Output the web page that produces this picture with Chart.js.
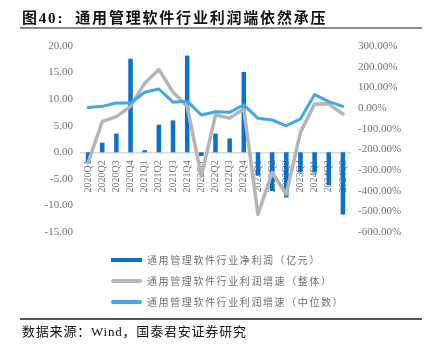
<!DOCTYPE html>
<html>
<head>
<meta charset="utf-8">
<script src="https://cdn.jsdelivr.net/npm/chart.js@4.4.1/dist/chart.umd.min.js"></script>
<style>
  html, body { margin: 0; padding: 0; background: #fff; }
  #wrap { position: relative; width: 428px; height: 348px; overflow: hidden; }
  #c { position: absolute; left: 0; top: 0; }
  .title { position: absolute; left: 22px; top: 6px; font: bold 15px "Liberation Serif", "Noto Sans CJK SC", serif; letter-spacing: 1.8px; color: #111; white-space: nowrap; }
  .rule { position: absolute; left: 20px; width: 402px; }
  .rule.top { top: 27px; height: 1.5px; background: #8a8a8a; }
  .rule.bottom { top: 318px; height: 1.5px; background: #555; }
  .source { position: absolute; left: 22px; top: 321px; font: 13px "Liberation Serif", "Noto Sans CJK SC", serif; color: #111; white-space: nowrap; letter-spacing: 0.8px; }
  .legend { position: absolute; left: 111px; top: 250px; }
  .legend .row { position: relative; height: 20.8px; }
  .legend .sw { position: absolute; left: 0; top: 8px; width: 31px; height: 4px; }
  .legend .sw.line { border-radius: 2px; }
  .legend .txt { position: absolute; left: 36px; top: 2px; font: 10px "Noto Sans CJK SC", sans-serif; color: #707070; letter-spacing: 1.6px; white-space: nowrap; }
</style>
</head>
<body>
<div id="wrap">
  <canvas id="c" width="428" height="348"></canvas>
  <div class="title">图40:&nbsp;&nbsp;通用管理软件行业利润端依然承压</div>
  <div class="rule top"></div>
  <div class="legend" id="legend"></div>
  <div class="rule bottom"></div>
  <div class="source">数据来源：Wind，国泰君安证券研究</div>
</div>
<script>
// Quarters shown on the category axis
const quarters = [
  '2020Q1', '2020Q2', '2020Q3', '2020Q4',
  '2021Q1', '2021Q2', '2021Q3', '2021Q4',
  '2022Q1', '2022Q2', '2022Q3', '2022Q4',
  '2023Q1', '2023Q2', '2023Q3', '2023Q4',
  '2024Q1', '2024Q2', '2024Q3'
];

// Net profit of the general management software industry (100m yuan)
const netProfit = [-2.0, 1.8, 3.5, 17.6, 0.4, 5.2, 6.0, 18.2, -0.7, 3.5, 2.6, 15.1,
                   -4.4, -7.3, -8.5, -3.8, -3.8, -6.2, -11.7];

// Profit growth, industry overall (%)
const growthOverall = [-265, -66, -42, 8, 120, 186, 76, 8, -330, -34, -49, -5,
                       -515, -312, -417, -118, 19, 19, -29];

// Profit growth, industry median (%)
const growthMedian = [3, 8, 24, 24, 76, 92, 28, 33, -34, -18, -21, 15,
                      -50, -58, -86, -53, 65, 31, 8];

const seriesNames = [
  '通用管理软件行业净利润（亿元）',
  '通用管理软件行业利润增速（整体）',
  '通用管理软件行业利润增速（中位数）'
];

const COLORS = { bar: '#0a72cc', overall: '#b5b5b5', median: '#41a7e6' };
const tickFont = { family: '"Liberation Serif", "Noto Sans CJK SC", serif', size: 11 };
const tickColor = '#707070';

const chart = new Chart(document.getElementById('c'), {
  data: {
    labels: quarters,
    datasets: [
      {
        type: 'bar', label: seriesNames[0], data: netProfit, yAxisID: 'y',
        backgroundColor: COLORS.bar, categoryPercentage: 1, barPercentage: 0.32, order: 3
      },
      {
        type: 'line', label: seriesNames[1], data: growthOverall, yAxisID: 'y1',
        borderColor: COLORS.overall, borderWidth: 3.5, pointRadius: 0, tension: 0,
        borderJoinStyle: 'round', borderCapStyle: 'round', order: 2
      },
      {
        type: 'line', label: seriesNames[2], data: growthMedian, yAxisID: 'y1',
        borderColor: COLORS.median, borderWidth: 3, pointRadius: 0, tension: 0,
        borderJoinStyle: 'round', borderCapStyle: 'round', order: 1
      }
    ]
  },
  options: {
    responsive: false,
    animation: false,
    layout: { padding: { top: 46, bottom: 116, left: 0, right: 0 } },
    plugins: { legend: { display: false }, tooltip: { enabled: false } },
    scales: {
      x: {
        type: 'category',
        offset: true,
        position: { y: 0 },
        grid: { display: false, drawTicks: false },
        border: { display: true, color: '#d9d9d9', width: 1.5 },
        ticks: {
          autoSkip: false, maxRotation: 90, minRotation: 90, padding: 8,
          color: tickColor, font: { family: tickFont.family, size: 10 }
        }
      },
      y: {
        position: 'left', min: -15, max: 20,
        grid: { display: false, drawTicks: false },
        border: { display: false },
        ticks: { stepSize: 5, padding: 8, color: tickColor, font: tickFont,
                 callback: v => v.toFixed(2) },
        afterFit: s => { s.width = 81; }
      },
      y1: {
        position: 'right', min: -600, max: 300,
        grid: { display: false, drawTicks: false },
        border: { display: false },
        ticks: { stepSize: 100, padding: 8, color: tickColor, font: tickFont,
                 callback: v => v.toFixed(2) + '%' },
        afterFit: s => { s.width = 78; }
      }
    }
  }
});

// Legend rows built from the chart's own datasets
const legend = document.getElementById('legend');
chart.data.datasets.forEach(ds => {
  const row = document.createElement('div');
  row.className = 'row';
  const sw = document.createElement('span');
  sw.className = 'sw' + (ds.type === 'line' ? ' line' : '');
  sw.style.background = ds.type === 'line' ? ds.borderColor : ds.backgroundColor;
  const txt = document.createElement('span');
  txt.className = 'txt';
  txt.textContent = ds.label;
  row.appendChild(sw);
  row.appendChild(txt);
  legend.appendChild(row);
});
</script>
</body>
</html>
